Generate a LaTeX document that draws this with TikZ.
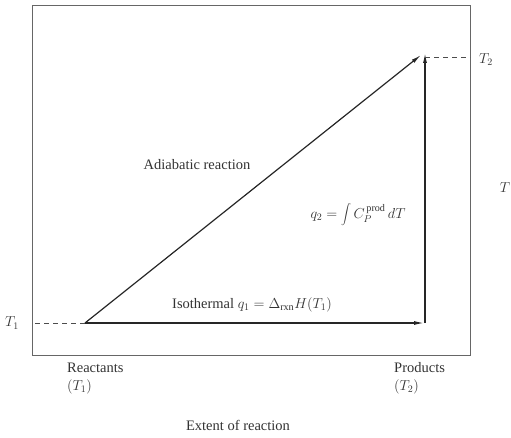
\documentclass[tikz,border=0pt]{standalone}
\usepackage{fontspec}
\setmainfont{Liberation Serif}
\usetikzlibrary{positioning,arrows.meta}
\tikzset{>={Latex[length=10pt,width=4pt]}}
\tikzset{mylabels/.style={font=\fontsize{14.5}{17}\selectfont, inner sep=1pt, text=black!80}}
\tikzset{myarrows/.style={->, line width=1.2pt, draw=black!85}}
\tikzset{myguides/.style={dash pattern=on 5pt off 4pt, line width=0.8pt, draw=black!70}}
\begin{document}
\begin{tikzpicture}[x=1pt, y=-1pt]
    \useasboundingbox (0,0) rectangle (511,438);
    % frame
    \draw[black!60, line width=0.9pt] (32,5) rectangle (470,355);
    \coordinate (react) at (85,323);
    \coordinate (prod)  at (425,323);
    \coordinate (top)   at (425,57);
    \coordinate (left)  at (35,323);
    \coordinate (right) at (470,57);
    % paths
    \draw[myarrows] (react) -- ([xshift=-4pt,yshift=2pt]top);
    \draw[myarrows] (react) -- ([xshift=-1pt]prod);
    \draw[myarrows] (prod) -- ([yshift=4pt]top);
    \draw[myguides] (left) -- (react);
    \draw[myguides] (top) -- (right);
    % labels
    \node[mylabels] (t1) at (12,323) {$T_1$};
    \node[mylabels] (t2) at (486,60) {$T_2$};
    \node[mylabels] (t)  at (505,188) {$T$};
    \node[mylabels] (adiab) at (197,165) {Adiabatic reaction};
    \node[mylabels] (heat) at (358,215) {$q_2=\displaystyle\int C_P^{\,\mathrm{prod}}\,dT$};
    \node[mylabels] (iso)  at (252,305) {Isothermal $q_1=\Delta_{\mathrm{rxn}}H(T_1)$};
    \node[mylabels, anchor=west] (reac) at (66,368) {Reactants};
    \node[mylabels, below=4pt of reac.south west, anchor=north west] (reacT) {$(T_1)$};
    \node[mylabels, anchor=west] (prods) at (393,368) {Products};
    \node[mylabels, below=4pt of prods.south west, anchor=north west] (prodT) {$(T_2)$};
    \node[mylabels] (extent) at (238,425) {Extent of reaction};
\end{tikzpicture}
\end{document}
